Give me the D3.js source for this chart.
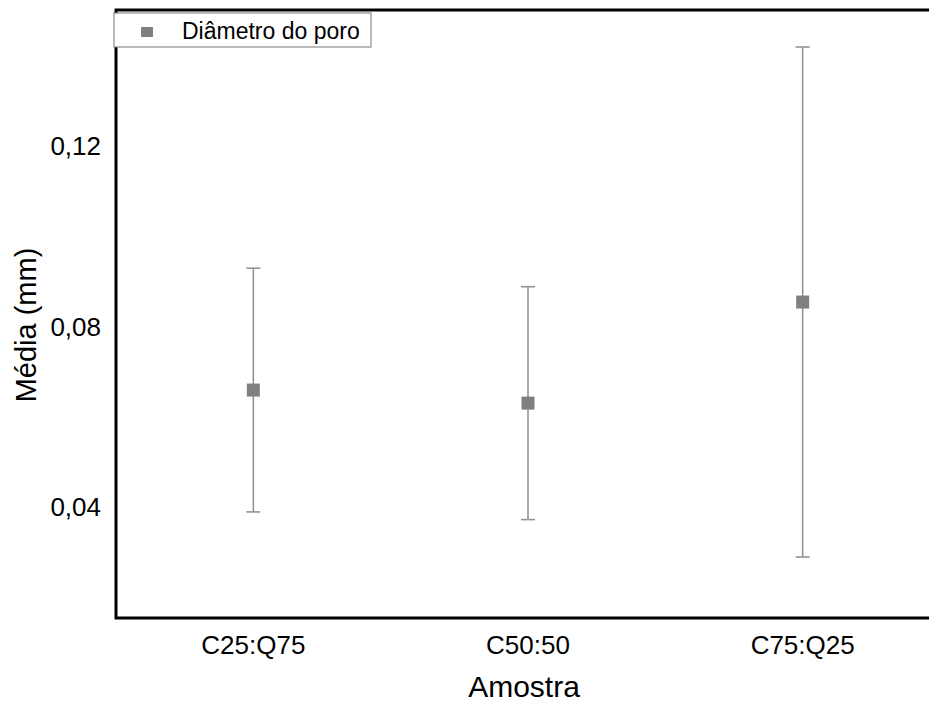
<!DOCTYPE html>
<html>
<head>
<meta charset="utf-8">
<script src="https://cdn.jsdelivr.net/npm/d3@7"></script>
<style>
  html, body { margin: 0; padding: 0; background: #fff; }
  svg { display: block; }
  text { font-family: "Liberation Sans", Arial, sans-serif; fill: #000; }
</style>
</head>
<body>
<svg id="chart" width="929" height="707"></svg>
<script>
const categories = ["C25:Q75", "C50:50", "C75:Q25"];
const means = [0.0659, 0.0630, 0.0854];
const errors = [0.0270, 0.0258, 0.0565];
const yTicks = [0.04, 0.08, 0.12];
const seriesName = "Diâmetro do poro";
const xTitle = "Amostra";
const yTitle = "Média (mm)";

(function () {
const svg = d3.select("#chart");
const pL = 116, pR = 940, pT = 10, pB = 618;

const x = d3.scalePoint().domain(categories).range([pL, pR]).padding(0.5);
const y = d3.scaleLinear().domain([0.0154, 0.1501]).range([pB, pT]);

const fmt = d => d3.format(".2f")(d).replace(".", ",");

// y tick labels
svg.append("g").selectAll("text").data(yTicks).join("text")
  .attr("x", 101).attr("y", d => y(d)).attr("dy", "0.35em")
  .attr("text-anchor", "end").style("font-size", "26px")
  .text(fmt);

// x tick labels
svg.append("g").selectAll("text").data(categories).join("text")
  .attr("x", d => x(d)).attr("y", 654)
  .attr("text-anchor", "middle").style("font-size", "26px")
  .text(d => d);

// titles
svg.append("text").attr("x", 524).attr("y", 697)
  .attr("text-anchor", "middle").style("font-size", "30px").text(xTitle);
svg.append("text").attr("transform", "translate(36,325) rotate(-90)")
  .attr("text-anchor", "middle").style("font-size", "29px").text(yTitle);

// error bars
const data = categories.map((c, i) => ({c, m: means[i], e: errors[i]}));
const g = svg.append("g").attr("stroke", "#949494").attr("stroke-width", 1.6);
g.selectAll("line.v").data(data).join("line").attr("class", "v")
  .attr("x1", d => x(d.c)).attr("x2", d => x(d.c))
  .attr("y1", d => y(d.m + d.e)).attr("y2", d => y(d.m - d.e));
g.selectAll("line.t").data(data).join("line").attr("class", "t")
  .attr("x1", d => x(d.c) - 7).attr("x2", d => x(d.c) + 7)
  .attr("y1", d => y(d.m + d.e)).attr("y2", d => y(d.m + d.e));
g.selectAll("line.b").data(data).join("line").attr("class", "b")
  .attr("x1", d => x(d.c) - 7).attr("x2", d => x(d.c) + 7)
  .attr("y1", d => y(d.m - d.e)).attr("y2", d => y(d.m - d.e));

// points
svg.append("g").selectAll("rect").data(data).join("rect")
  .attr("x", d => x(d.c) - 6.5).attr("y", d => y(d.m) - 6.5)
  .attr("width", 13).attr("height", 13).attr("fill", "#808080");

// frame
svg.append("rect").attr("x", pL).attr("y", pT)
  .attr("width", pR - pL).attr("height", pB - pT)
  .attr("fill", "none").attr("stroke", "#000").attr("stroke-width", 3);

// legend
const lg = svg.append("g");
lg.append("rect").attr("x", 114).attr("y", 13).attr("width", 257).attr("height", 34)
  .attr("fill", "#fff").attr("stroke", "#777").attr("stroke-width", 1);
lg.append("rect").attr("x", 141).attr("y", 27).attr("width", 12).attr("height", 10)
  .attr("fill", "#808080");
lg.append("text").attr("x", 182).attr("y", 39).style("font-size", "23px").text(seriesName);
})();
</script>
</body>
</html>
